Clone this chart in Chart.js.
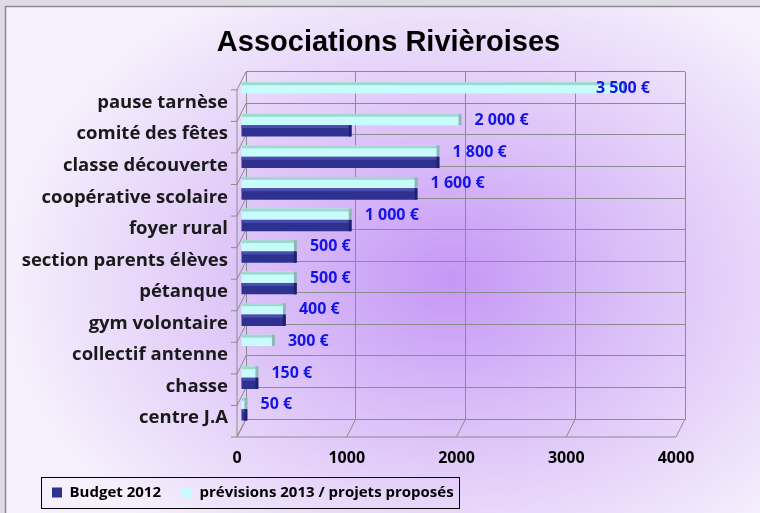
<!DOCTYPE html>
<html>
<head>
<meta charset="utf-8">
<script src="https://cdn.jsdelivr.net/npm/chart.js@4.4.1/dist/chart.umd.min.js"></script>
<style>
  html, body { margin: 0; padding: 0; background: #dedbe6; }
  #wrap { width: 760px; height: 513px; }
</style>
</head>
<body>
<div id="wrap"><canvas id="assocChart" width="760" height="513"></canvas></div>
<script>
// Chart data
const categories = ['pause tarnèse', 'comité des fêtes', 'classe découverte', 'coopérative scolaire', 'foyer rural',
    'section parents élèves', 'pétanque', 'gym volontaire', 'collectif antenne', 'chasse', 'centre J.A'];
const budget2012 = [0, 1000, 1800, 1600, 1000, 500, 500, 400, 0, 150, 50];
const previsions2013 = [3500, 2000, 1800, 1600, 1000, 500, 500, 400, 300, 150, 50];
const xTicks = [0, 1000, 2000, 3000, 4000];

// fake 3D depth of the plot box
const DX = 9;
const DY = 18;
const barShift = { x: -5, y: 6 };
const gridColor = '#8c8c8c';
const labelFont = 'Open Sans';

function euro(v) {
    return String(v).replace(/\B(?=(\d{3})+(?!\d))/g, ' ') + ' €';
}

// Background gradient and outer frame
const backdrop = {
    id: 'backdrop',
    beforeDraw(chart) {
        const { ctx, width, height } = chart;
        ctx.save();
        ctx.fillStyle = '#dedbe6';
        ctx.fillRect(0, 0, width, height);
        ctx.save();
        ctx.translate(450, 280);
        ctx.scale(1.35, 1);
        const g = ctx.createRadialGradient(0, 0, 0, 0, 0, 330);
        g.addColorStop(0, '#c597f6');
        g.addColorStop(0.45, '#dcc2f8');
        g.addColorStop(1, '#f6f0fc');
        ctx.fillStyle = g;
        ctx.fillRect(-444 / 1.35, -273, width / 1.35, height);
        ctx.restore();
        ctx.strokeStyle = '#8a8a8a';
        ctx.lineWidth = 1.5;
        ctx.strokeRect(5.5, 6.5, width, height);
        ctx.restore();
    },
    afterLayout(chart) {
        // move title and legend to where the original has them
        chart.titleBlock.left += 43;
        chart.titleBlock.right += 43;
        chart.legend.left += 25;
        chart.legend.right += 25;
    }
};

// Floor and left wall lines, bar shading and value labels
const depthFrame = {
    id: 'depthFrame',
    beforeDatasetsDraw(chart) {
        const { ctx, chartArea: a, scales: { x, y } } = chart;
        const step = y.getPixelForValue(1) - y.getPixelForValue(0);
        const first = y.getPixelForValue(0) - step / 2;
        ctx.save();
        ctx.strokeStyle = gridColor;
        ctx.lineWidth = 1;
        ctx.beginPath();
        ctx.moveTo(a.left - DX, a.bottom + DY);
        ctx.lineTo(a.right - DX, a.bottom + DY);
        xTicks.forEach(v => {
            const px = x.getPixelForValue(v);
            ctx.moveTo(px, a.bottom);
            ctx.lineTo(px - DX, a.bottom + DY);
        });
        ctx.moveTo(a.left - DX, a.top + DY);
        ctx.lineTo(a.left - DX, a.bottom + DY);
        for (let i = 0; i <= categories.length; i++) {
            const py = first + i * step;
            ctx.moveTo(a.left, py);
            ctx.lineTo(a.left - DX, py + DY);
            ctx.moveTo(a.left - DX, py + DY);
            ctx.lineTo(a.left - DX - 6, py + DY);
        }
        ctx.stroke();
        ctx.restore();
        ctx.save();
        ctx.translate(barShift.x, barShift.y);
    },
    afterDatasetsDraw(chart) {
        const ctx = chart.ctx;
        chart.data.datasets.forEach((ds, di) => {
            chart.getDatasetMeta(di).data.forEach(bar => {
                if (bar.x - bar.base < 0.5) return;
                const top = bar.y - bar.height / 2;
                ctx.fillStyle = ds.capColor;
                ctx.fillRect(bar.base, top, bar.x - bar.base, 3);
                ctx.fillStyle = ds.endColor;
                ctx.fillRect(bar.x - 2, top, 3, bar.height);
            });
        });
        ctx.restore();

        // value labels for the 2013 series
        const a = chart.chartArea;
        ctx.save();
        ctx.font = 'bold 16px "' + labelFont + '"';
        ctx.fillStyle = '#1414e6';
        ctx.textBaseline = 'middle';
        chart.getDatasetMeta(0).data.forEach((bar, i) => {
            const text = euro(previsions2013[i]);
            const w = ctx.measureText(text).width;
            const tx = Math.min(bar.x + barShift.x + 14, a.right - 35 - w);
            ctx.fillText(text, tx, bar.y + barShift.y + 1);
        });
        ctx.restore();
    }
};

// Frame around the legend
const legendFrame = {
    id: 'legendFrame',
    afterDraw(chart) {
        const boxes = chart.legend.legendHitBoxes;
        if (!boxes || !boxes.length) return;
        const left = Math.min(...boxes.map(b => b.left)) - 11;
        const right = Math.max(...boxes.map(b => b.left + b.width)) + 5;
        const top = boxes[0].top - 8;
        const bottom = boxes[0].top + boxes[0].height + 8;
        const ctx = chart.ctx;
        ctx.save();
        ctx.strokeStyle = '#000';
        ctx.lineWidth = 1;
        ctx.strokeRect(Math.round(left) + 0.5, Math.round(top) + 0.5, Math.round(right - left), Math.round(bottom - top));
        ctx.restore();
    }
};

const ctx = document.getElementById('assocChart');
new Chart(ctx, {
    type: 'bar',
    data: {
        labels: categories,
        datasets: [{
            label: 'prévisions 2013 / projets proposés',
            data: previsions2013,
            backgroundColor: '#c8fbfb',
            capColor: '#9fd8d0',
            endColor: '#8fb8b4'
        }, {
            label: 'Budget 2012',
            data: budget2012,
            backgroundColor: '#2f3190',
            capColor: '#4a4cb0',
            endColor: '#1f2170'
        }]
    },
    options: {
        indexAxis: 'y',
        responsive: false,
        animation: false,
        layout: { padding: { left: 6, right: 75, top: 9, bottom: 3 } },
        datasets: { bar: { categoryPercentage: 0.72, barPercentage: 1, clip: false } },
        scales: {
            x: {
                min: 0,
                max: 4000,
                afterBuildTicks: scale => { scale.ticks = xTicks.map(v => ({ value: v })); },
                afterFit: scale => { scale.height = 45; },
                grid: { color: gridColor, drawTicks: false },
                border: { color: gridColor },
                ticks: {
                    padding: 30,
                    labelOffset: -DX,
                    color: '#000',
                    callback: v => String(v),
                    font: { family: labelFont, weight: 'bold', size: 16 }
                }
            },
            y: {
                afterFit: scale => { scale.width = 240; },
                grid: { color: gridColor, drawTicks: false },
                border: { color: gridColor },
                ticks: {
                    padding: 18,
                    labelOffset: 15,
                    color: '#1a1a1a',
                    font: { family: labelFont, weight: 'bold', size: 18.5 }
                }
            }
        },
        plugins: {
            title: {
                display: true,
                text: 'Associations Rivièroises',
                color: '#000',
                font: { family: 'Liberation Sans', weight: 'bold', size: 29 },
                padding: { top: 17, bottom: 11 }
            },
            legend: {
                position: 'bottom',
                align: 'start',
                reverse: true,
                labels: {
                    boxWidth: 10,
                    boxHeight: 10,
                    padding: 21,
                    color: '#000',
                    font: { family: labelFont, weight: 'bold', size: 15 }
                }
            },
            tooltip: { enabled: false }
        }
    },
    plugins: [backdrop, depthFrame, legendFrame]
});
</script>
</body>
</html>
